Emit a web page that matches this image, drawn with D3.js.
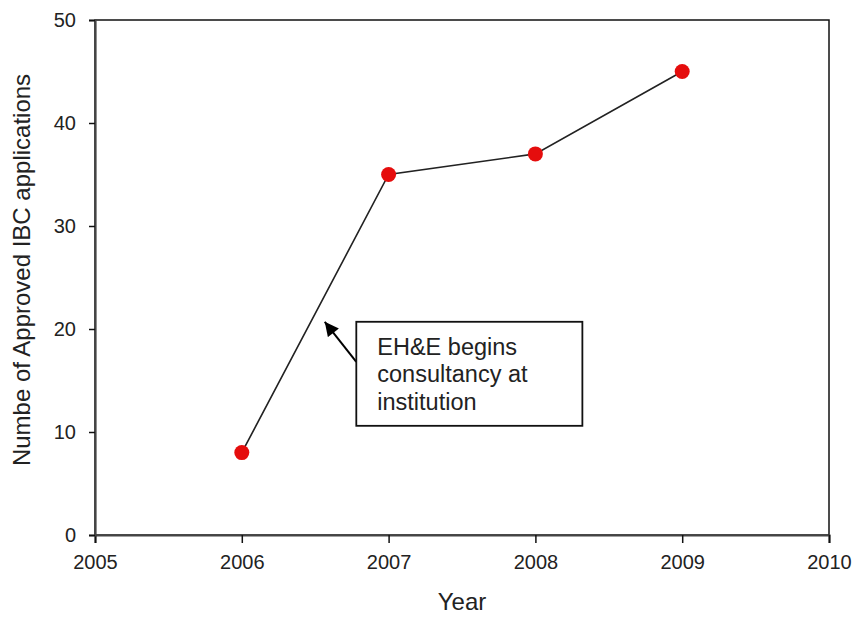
<!DOCTYPE html>
<html>
<head>
<meta charset="utf-8">
<script src="https://cdn.jsdelivr.net/npm/d3@7"></script>
<style>
  body { margin: 0; background: #fff; }
  text { font-family: "Liberation Sans", Arial, sans-serif; fill: #222; }
</style>
</head>
<body>
<div id="chart"></div>
<script>
var years = [2006, 2007, 2008, 2009];
var approved = [8, 35, 37, 45];
var xTicks = [2005, 2006, 2007, 2008, 2009, 2010];
var yTicks = [0, 10, 20, 30, 40, 50];
var noteLines = ["EH&E begins", "consultancy at", "institution"];

var W = 855, H = 617;
var margin = { left: 95, right: 26, top: 20, bottom: 82 };
var width = W - margin.left - margin.right,
    height = H - margin.top - margin.bottom;

var svg = d3.select("#chart").append("svg")
    .attr("width", W).attr("height", H)
    .append("g")
    .attr("transform", "translate(" + margin.left + "," + margin.top + ")");

var x = d3.scaleLinear().domain([2005, 2010]).range([0, width]);
var y = d3.scaleLinear().domain([0, 50]).range([height, 0]);

// frame
svg.append("rect")
    .attr("x", 0).attr("y", 0)
    .attr("width", width).attr("height", height)
    .attr("fill", "none").attr("stroke", "#111").attr("stroke-width", 1.5);

var xAxis = svg.append("g")
    .attr("transform", "translate(0," + height + ")")
    .call(d3.axisBottom(x).tickValues(xTicks).tickFormat(d3.format("d")).tickSize(8).tickPadding(12));
var yAxis = svg.append("g")
    .call(d3.axisLeft(y).tickValues(yTicks).tickSize(6).tickPadding(13));

[xAxis, yAxis].forEach(function(a){
    a.select(".domain").attr("stroke", "#444").attr("stroke-width", 2.2);
    a.selectAll(".tick line").attr("stroke", "#111").attr("stroke-width", 1.5);
    a.selectAll(".tick text")
        .attr("font-family", "'Liberation Sans', Arial, sans-serif")
        .attr("font-size", "20px").attr("fill", "#222");
});

svg.append("text")
    .attr("transform", "rotate(-90)")
    .attr("x", -250)
    .attr("y", -65)
    .attr("text-anchor", "middle")
    .attr("font-size", "24px")
    .attr("fill", "#333")
    .text("Numbe of Approved IBC applications");

svg.append("text")
    .attr("x", 462 - margin.left)
    .attr("y", height + 75)
    .attr("text-anchor", "middle")
    .attr("font-size", "24px")
    .attr("fill", "#222")
    .text("Year");

// series
var line = d3.line()
    .x(function(d, i){ return x(years[i]); })
    .y(function(d){ return y(d); });

svg.append("path")
    .datum(approved)
    .attr("d", line)
    .attr("fill", "none")
    .attr("stroke", "#222")
    .attr("stroke-width", 1.6);

svg.selectAll(".dot")
    .data(approved)
    .enter().append("circle")
    .attr("class", "dot")
    .attr("cx", function(d, i){ return x(years[i]); })
    .attr("cy", function(d){ return y(d); })
    .attr("r", 7.5)
    .attr("fill", "#e50d0d");

// annotation (positions in data units)
var note = { x0: 2006.78, x1: 2008.32, y0: 20.7, y1: 10.6 };
var arrowFrom = [2006.78, 16.8], arrowTo = [2006.565, 20.7];

svg.append("defs").append("marker")
    .attr("id", "arrow")
    .attr("viewBox", "0 0 10 10")
    .attr("refX", 10).attr("refY", 5)
    .attr("markerWidth", 15).attr("markerHeight", 14)
    .attr("markerUnits", "userSpaceOnUse")
    .attr("orient", "auto")
    .append("path")
    .attr("d", "M0,0 L10,5 L0,10 z")
    .attr("fill", "#000");

svg.append("line")
    .attr("x1", x(arrowFrom[0])).attr("y1", y(arrowFrom[1]))
    .attr("x2", x(arrowTo[0])).attr("y2", y(arrowTo[1]))
    .attr("stroke", "#000").attr("stroke-width", 2)
    .attr("marker-end", "url(#arrow)");

svg.append("rect")
    .attr("x", x(note.x0)).attr("y", y(note.y0))
    .attr("width", x(note.x1) - x(note.x0))
    .attr("height", y(note.y1) - y(note.y0))
    .attr("fill", "#fff").attr("stroke", "#111").attr("stroke-width", 1.8);

svg.append("g").selectAll("text")
    .data(noteLines)
    .enter().append("text")
    .attr("x", x(note.x0) + 21)
    .attr("y", function(d, i){ return y(note.y0) + 33 + i * 27.5; })
    .attr("font-size", "23.5px")
    .attr("fill", "#111")
    .text(function(d){ return d; });
</script>
</body>
</html>
